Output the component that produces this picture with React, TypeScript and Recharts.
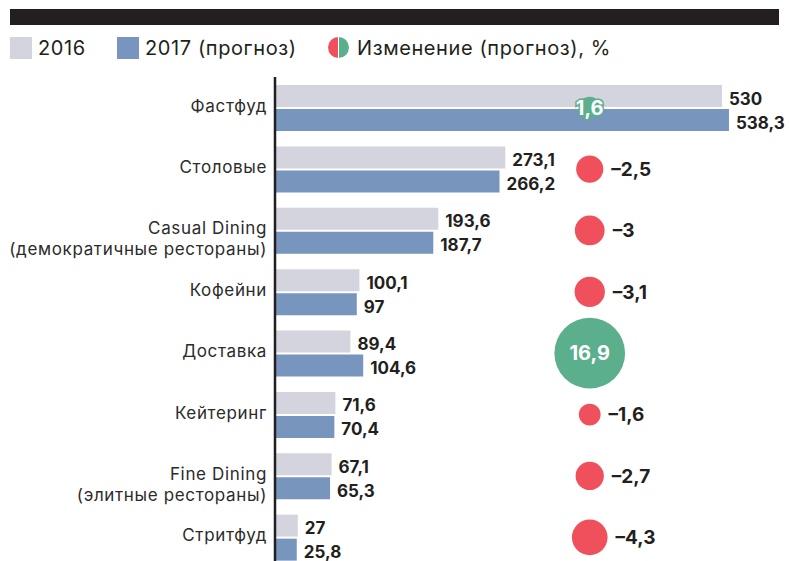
import React from 'react';
import { ComposedChart, Bar, Scatter, XAxis, YAxis, ZAxis, LabelList, ReferenceLine } from 'recharts';

const categories = [
  'Фастфуд',
  'Столовые',
  'Casual Dining\n(демократичные рестораны)',
  'Кофейни',
  'Доставка',
  'Кейтеринг',
  'Fine Dining\n(элитные рестораны)',
  'Стритфуд',
];
const values2016 = [530, 273.1, 193.6, 100.1, 89.4, 71.6, 67.1, 27];
const values2017 = [538.3, 266.2, 187.7, 97, 104.6, 70.4, 65.3, 25.8];
const changes = [1.6, -2.5, -3, -3.1, 16.9, -1.6, -2.7, -4.3];
const legendLabels = ['2016', '2017 (прогноз)', 'Изменение (прогноз), %'];

const BAR_2016 = '#d4d4de';
const BAR_2017 = '#7895bd';
const RED = '#f0505c';
const GREEN = '#5baf8d';
const INK = '#231f20';
const FONT = 'Inter, "Noto Sans", sans-serif';
const BUBBLE_COLUMN = 0.622;
const BUBBLE_K = 8.6;
const MAX_CHANGE = Math.max(...changes.map((c) => Math.abs(c)));

const data = categories.map((name, i) => ({
  name,
  v2016: values2016[i],
  v2017: values2017[i],
  change: changes[i],
  abs: Math.abs(changes[i]),
  col: BUBBLE_COLUMN,
}));

const fmt = (v: number) => String(v).replace('.', ',');
const fmtChange = (v: number) => (v < 0 ? '–' + fmt(-v) : fmt(v));

const CategoryTick = (props: any) => {
  const { x, y, payload } = props;
  const lines = String(payload.value).split('\n');
  return (
    <text x={x} y={y + 4} textAnchor="end" fill="#2b2b2b" fontSize={17} letterSpacing={0.65} fontFamily={FONT}>
      {lines.map((l, i) => (
        <tspan key={i} x={x} dy={i === 0 ? 0 : 21}>
          {l}
        </tspan>
      ))}
    </text>
  );
};

const BarValue = (props: any) => {
  const { x, y, width, height, value } = props;
  return (
    <text
      x={x + width + 7}
      y={y + height / 2 + 2.5}
      dy="0.36em"
      fill={INK}
      fontSize={17}
      fontWeight={700}
      fontFamily={FONT}
    >
      {fmt(value)}
    </text>
  );
};

const Bubble = (props: any) => {
  const { cx, cy, payload } = props;
  const r = props.width ? props.width / 2 : Math.sqrt((props.size || 0) / Math.PI);
  const v = payload.change;
  const pos = v > 0;
  return (
    <g>
      <circle cx={cx} cy={cy} r={r} fill={pos ? GREEN : RED} />
      {pos ? (
        <text
          x={cx}
          y={cy}
          dy="0.36em"
          textAnchor="middle"
          fill="#fff"
          stroke={GREEN}
          strokeWidth={3}
          paintOrder="stroke"
          fontWeight={700}
          fontSize={20}
          fontFamily={FONT}
        >
          {fmtChange(v)}
        </text>
      ) : (
        <text x={cx + r + 8} y={cy} dy="0.36em" fill={INK} fontWeight={700} fontSize={19} fontFamily={FONT}>
          {fmtChange(v)}
        </text>
      )}
    </g>
  );
};

const AxisLine = (p: any) => (
  <line x1={p.x1} y1={(p.y1 || 0) + 7} x2={p.x2} y2={p.y2} stroke={INK} strokeWidth={2.5} />
);

const legendText: React.CSSProperties = {
  position: 'absolute',
  top: 36,
  fontSize: 20,
  lineHeight: '24px',
  letterSpacing: 0.6,
  color: INK,
  fontFamily: FONT,
  whiteSpace: 'nowrap',
};

export default function App() {
  return (
    <div
      style={{
        position: 'fixed',
        top: 0,
        left: 0,
        width: 790,
        height: 561,
        overflow: 'hidden',
        background: '#fff',
        fontFamily: FONT,
      }}
    >
      <div style={{ position: 'absolute', left: 10, top: 9, width: 769, height: 16, background: INK }} />
      <div style={{ position: 'absolute', left: 10, top: 37, width: 22, height: 22, background: BAR_2016 }} />
      <div style={{ ...legendText, left: 38 }}>{legendLabels[0]}</div>
      <div style={{ position: 'absolute', left: 117, top: 37, width: 22, height: 22, background: BAR_2017 }} />
      <div style={{ ...legendText, left: 145 }}>{legendLabels[1]}</div>
      <div
        style={{
          position: 'absolute',
          left: 328,
          top: 37,
          width: 21,
          height: 21,
          borderRadius: '50%',
          background: `linear-gradient(to right, ${RED} 0%, ${RED} 48%, #fff 48%, #fff 52%, ${GREEN} 52%, ${GREEN} 100%)`,
        }}
      />
      <div style={{ ...legendText, left: 357 }}>{legendLabels[2]}</div>

      <div style={{ position: 'absolute', left: 0, top: 0 }}>
        <ComposedChart
          width={790}
          height={568}
          data={data}
          layout="vertical"
          margin={{ top: 77, right: 9, bottom: 0, left: 0 }}
          barGap={2}
          barSize={22}
        >
          <XAxis xAxisId="v" type="number" domain={[0, 600]} hide />
          <XAxis xAxisId="chg" type="number" domain={[0, 1]} hide />
          <YAxis
            type="category"
            dataKey="name"
            width={275}
            axisLine={false}
            tickLine={false}
            tick={<CategoryTick />}
            interval={0}
          />
          <ZAxis
            type="number"
            dataKey="abs"
            domain={[0, MAX_CHANGE]}
            range={[0, Math.PI * BUBBLE_K * BUBBLE_K * MAX_CHANGE]}
          />
          <Bar xAxisId="v" dataKey="v2016" fill={BAR_2016} isAnimationActive={false}>
            <LabelList dataKey="v2016" content={<BarValue />} />
          </Bar>
          <Bar xAxisId="v" dataKey="v2017" fill={BAR_2017} isAnimationActive={false}>
            <LabelList dataKey="v2017" content={<BarValue />} />
          </Bar>
          <ReferenceLine xAxisId="v" x={0} stroke={INK} strokeWidth={2.5} shape={AxisLine} />
          <Scatter xAxisId="chg" dataKey="col" shape={<Bubble />} isAnimationActive={false} />
        </ComposedChart>
      </div>
    </div>
  );
}
